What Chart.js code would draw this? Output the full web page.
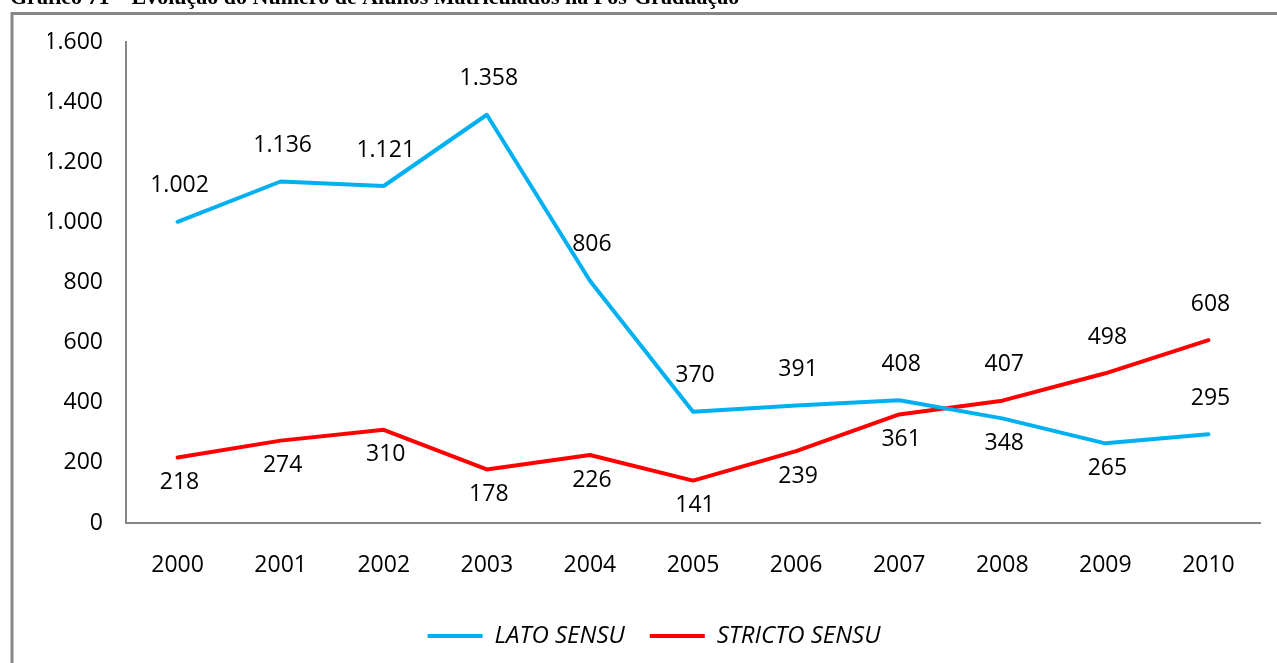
<!DOCTYPE html>
<html>
<head>
<meta charset="utf-8">
<script src="https://cdn.jsdelivr.net/npm/chart.js@4"></script>
<style>
  html, body { margin: 0; padding: 0; background: #fff; }
  #wrap { position: absolute; left: 0; top: 0; width: 1277px; height: 663px; }
</style>
</head>
<body>
<div id="wrap"><canvas id="chart" width="1277" height="663"></canvas></div>
<script>
// ===== data =====
const years = ['2000','2001','2002','2003','2004','2005','2006','2007','2008','2009','2010'];
const latoSensu = [1002, 1136, 1121, 1358, 806, 370, 391, 408, 348, 265, 295];
const strictoSensu = [218, 274, 310, 178, 226, 141, 239, 361, 407, 498, 608];
// where each value label sits relative to its point
const latoLabelPos = ['up','up','up','up','up','up','up','up','down','down','up'];
const strictoLabelPos = ['down','down','down','down','down','down','down','down','up','up','up'];

const titleText = 'Gráfico 71 – Evolução do Número de Alunos Matriculados na Pós-Graduação';
const FONT = "'Open Sans', sans-serif";

function fmt(v) {
  return String(v).replace(/\B(?=(\d{3})+(?!\d))/g, '.');
}

// ===== frame + cut title =====
const framePlugin = {
  id: 'frame',
  beforeDraw(chart) {
    const ctx = chart.ctx;
    ctx.save();
    ctx.strokeStyle = '#868686';
    ctx.lineWidth = 3;
    ctx.beginPath();
    ctx.moveTo(12, 663);
    ctx.lineTo(12, 13.5);
    ctx.lineTo(1277, 13.5);
    ctx.stroke();
    ctx.fillStyle = '#000';
    ctx.font = "bold 22px 'Liberation Serif', serif";
    ctx.textBaseline = 'alphabetic';
    ctx.fillText(titleText, 10, 4);
    ctx.restore();
  }
};

// ===== value labels =====
const valueLabels = {
  id: 'valueLabels',
  afterDatasetsDraw(chart) {
    const ctx = chart.ctx;
    const posSets = [latoLabelPos, strictoLabelPos];
    ctx.save();
    ctx.font = '23px ' + FONT;
    ctx.fillStyle = '#000';
    ctx.textAlign = 'center';
    ctx.textBaseline = 'middle';
    chart.data.datasets.forEach((ds, i) => {
      const meta = chart.getDatasetMeta(i);
      meta.data.forEach((pt, j) => {
        const off = posSets[i][j] === 'up' ? -36 : 25;
        ctx.fillText(fmt(ds.data[j]), pt.x + 2, pt.y + off);
      });
    });
    ctx.restore();
  }
};

new Chart(document.getElementById('chart'), {
  type: 'line',
  data: {
    labels: years,
    datasets: [
      { label: 'LATO SENSU', data: latoSensu, borderColor: '#00B0F0', backgroundColor: '#00B0F0',
        borderWidth: 4, pointRadius: 0, tension: 0, borderCapStyle: 'round', borderJoinStyle: 'round' },
      { label: 'STRICTO SENSU', data: strictoSensu, borderColor: '#FF0000', backgroundColor: '#FF0000',
        borderWidth: 4, pointRadius: 0, tension: 0, borderCapStyle: 'round', borderJoinStyle: 'round' }
    ]
  },
  options: {
    responsive: false,
    animation: false,
    layout: { padding: { top: 42, right: 17, left: 48, bottom: 5 } },
    plugins: {
      legend: {
        position: 'bottom',
        labels: {
          usePointStyle: true,
          pointStyle: 'line',
          pointStyleWidth: 55,
          padding: 25,
          color: '#000',
          font: { family: FONT, size: 24, style: 'italic' }
        }
      },
      tooltip: { enabled: false }
    },
    scales: {
      x: {
        offset: true,
        grid: { display: false },
        border: { display: true, color: '#868686', width: 2 },
        ticks: { color: '#000', padding: 21, font: { family: FONT, size: 23 } },
        afterFit(scale) { scale.height = 76; }
      },
      y: {
        min: 0,
        max: 1600,
        grid: { display: false },
        border: { display: true, color: '#868686', width: 2 },
        ticks: { stepSize: 200, color: '#000', padding: 15, font: { family: FONT, size: 23 },
          callback: v => fmt(v) },
        afterFit(scale) { scale.width = 78; }
      }
    }
  },
  plugins: [framePlugin, valueLabels]
});
</script>
</body>
</html>
